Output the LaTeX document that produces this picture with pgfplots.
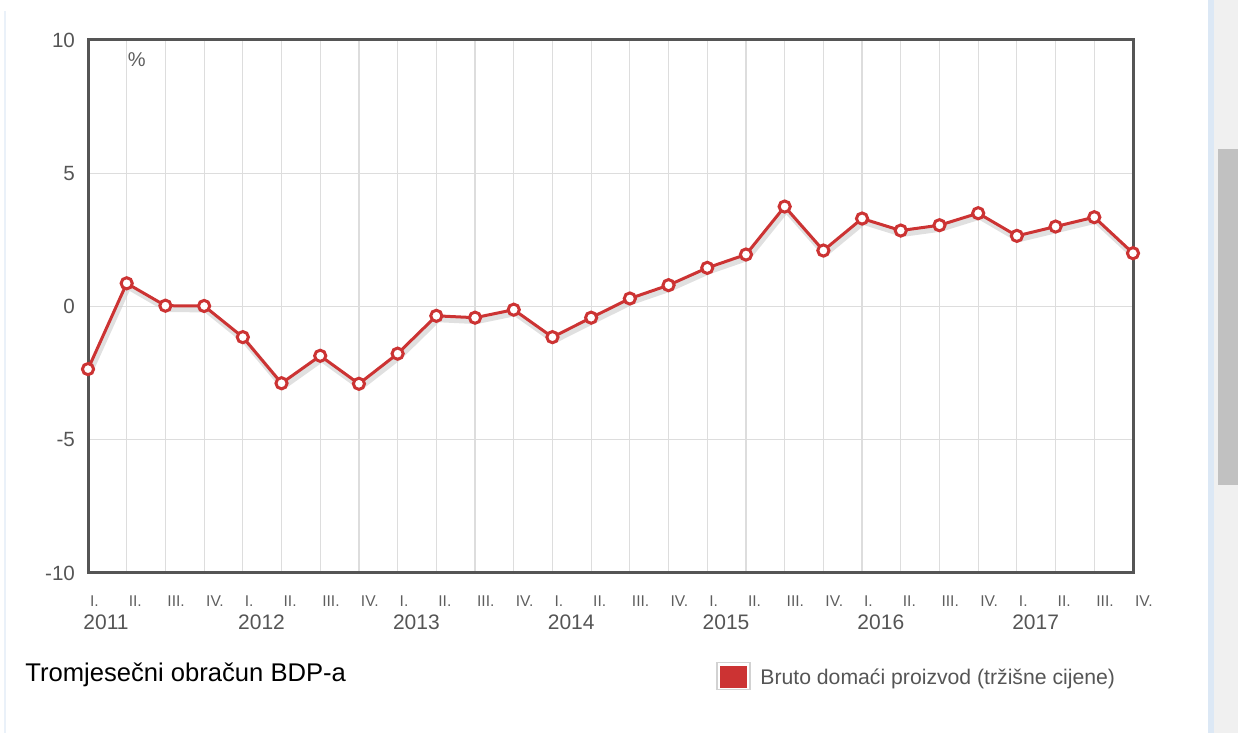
\documentclass[border=0pt]{standalone}
\usepackage{fontspec}
\setmainfont{Liberation Sans}
\usepackage{pgfplots}
\pgfplotsset{compat=1.18}
\definecolor{linered}{HTML}{CC3333}
\definecolor{framegray}{HTML}{555555}
\definecolor{gridgray}{HTML}{DDDDDD}
\definecolor{labgray}{HTML}{555555}
\definecolor{romgray}{HTML}{5E5E5E}
\definecolor{sbblue}{HTML}{DCE8F5}
\definecolor{sbtrack}{HTML}{F0F0F0}
\definecolor{sbthumb}{HTML}{C1C1C1}
\tikzset{year/.style={anchor=west, xshift=-2.5pt, yshift=-24.5pt, inner sep=0pt, text=labgray, font=\fontsize{10.5}{12}\selectfont}}
\begin{document}
\begin{tikzpicture}
\path[use as bounding box] (0,0) rectangle (619pt,366.5pt);
% page decorations (scrollbar, frame edge)
\fill[sbblue] (604pt,0) rectangle (607pt,366.5pt);
\fill[sbtrack] (607pt,0) rectangle (619pt,366.5pt);
\fill[sbthumb] (609pt,124pt) rectangle (619pt,292pt);
\draw[sbblue!60, line width=0.6pt] (2.5pt,0) -- (2.5pt,361pt);
\begin{axis}[
  at={(44pt,80pt)}, anchor=south west,
  scale only axis, width=522.5pt, height=266.5pt,
  xmin=0, xmax=27, ymin=-10, ymax=10,
  axis line style={framegray, line width=1.5pt},
  xtick={0,...,27},
  xticklabels={I.,II.,III.,IV.,I.,II.,III.,IV.,I.,II.,III.,IV.,I.,II.,III.,IV.,I.,II.,III.,IV.,I.,II.,III.,IV.,I.,II.,III.,IV.},
  ytick={-10,-5,0,5,10},
  major tick length=0pt,
  xmajorgrids, ymajorgrids,
  grid style={gridgray, line width=0.6pt},
  xticklabel style={anchor=west, xshift=-2.5pt, yshift=-14pt, font=\fontsize{7.8}{9}\selectfont, text=romgray},
  yticklabel style={font=\fontsize{10.3}{12}\selectfont, text=labgray, xshift=-3pt},
  /pgf/number format/assume math mode=true,
  clip=false,
]
\addplot[gray!40, opacity=0.6, line width=2.8pt, xshift=0.8pt, yshift=-1.8pt, forget plot] coordinates {
(0,-2.35) (1,0.87) (2,0.03) (3,0.02) (4,-1.15) (5,-2.88) (6,-1.85) (7,-2.9)
(8,-1.77) (9,-0.35) (10,-0.42) (11,-0.12) (12,-1.15) (13,-0.42) (14,0.3) (15,0.8)
(16,1.45) (17,1.95) (18,3.75) (19,2.1) (20,3.3) (21,2.85) (22,3.05) (23,3.5)
(24,2.65) (25,3.0) (26,3.35) (27,2.0)
};
\addplot[linered, line width=1.5pt, mark=*, mark size=2.8pt,
  mark options={fill=white, draw=linered, line width=1.5pt}] coordinates {
(0,-2.35) (1,0.87) (2,0.03) (3,0.02) (4,-1.15) (5,-2.88) (6,-1.85) (7,-2.9)
(8,-1.77) (9,-0.35) (10,-0.42) (11,-0.12) (12,-1.15) (13,-0.42) (14,0.3) (15,0.8)
(16,1.45) (17,1.95) (18,3.75) (19,2.1) (20,3.3) (21,2.85) (22,3.05) (23,3.5)
(24,2.65) (25,3.0) (26,3.35) (27,2.0)
};
\node[anchor=west, xshift=-3pt, text=romgray, font=\fontsize{10}{12}\selectfont] at (axis cs:1,9.25) {\%};
\node[year] at (axis cs:0,-10) {2011};
\node[year] at (axis cs:4,-10) {2012};
\node[year] at (axis cs:8,-10) {2013};
\node[year] at (axis cs:12,-10) {2014};
\node[year] at (axis cs:16,-10) {2015};
\node[year] at (axis cs:20,-10) {2016};
\node[year] at (axis cs:24,-10) {2017};
\end{axis}
\node[anchor=west, inner sep=0pt, font=\fontsize{12.8}{15}\selectfont] at (12.5pt,29pt) {Tromjesečni obračun BDP-a};
\fill[gray!35] (358pt,21.5pt) rectangle (375.5pt,35.5pt);
\fill[white] (359pt,22.2pt) rectangle (374.5pt,34.8pt);
\fill[linered] (360pt,22.5pt) rectangle (373.5pt,33.5pt);
\node[anchor=west, inner sep=0pt, text=labgray, font=\fontsize{10.6}{13}\selectfont] at (380pt,27pt) {Bruto domaći proizvod (tržišne cijene)};
\end{tikzpicture}
\end{document}
